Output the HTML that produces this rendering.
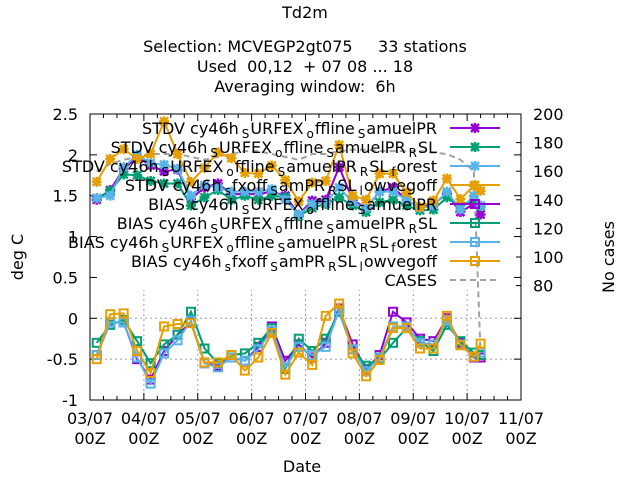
<!DOCTYPE html>
<html><head><meta charset="utf-8"><style>
body{margin:0;background:#fff}
svg{display:block;font-family:"DejaVu Sans","Liberation Sans",sans-serif}
</style></head><body>
<svg id="chart" width="640" height="480" viewBox="0 0 640 480" xmlns="http://www.w3.org/2000/svg">
<g id="titles" font-size="16" text-anchor="middle" fill="#000">
<text x="305" y="18">Td2m</text>
<text x="305" y="52" xml:space="preserve">Selection: MCVEGP2gt075     33 stations</text>
<text x="305" y="72" xml:space="preserve">Used  00,12  + 07 08 ... 18</text>
<text x="305" y="92" xml:space="preserve">Averaging window:  6h</text>
</g>
<g id="grid"></g>
<rect x="91" y="115" width="429" height="175" fill="#fff"/>
<g id="axes"></g>
<g id="series"></g>
<g id="legend"></g>
<text x="302" y="472" font-size="16" text-anchor="middle">Date</text>
<text x="0" y="0" font-size="16" text-anchor="middle" transform="translate(23,257) rotate(-90)">deg C</text>
<text x="0" y="0" font-size="16" text-anchor="middle" transform="translate(614,257) rotate(-90)">No cases</text>
</svg>
<script>
const hours = [3,9,15,21,27,33,39,45,51,57,63,69,75,81,87,93,99,105,111,117,123,129,135,141,147,153,159,165,171,174];
const stdvPurple = [1.45,1.57,1.83,1.97,1.87,1.80,1.82,1.46,1.60,1.65,1.52,1.52,1.52,1.55,1.50,1.27,1.44,1.45,1.85,1.45,1.35,1.55,1.60,1.45,1.35,1.40,1.52,1.30,1.40,1.27];
const stdvGreen = [1.47,1.56,1.76,1.75,1.68,1.65,1.65,1.38,1.48,1.57,1.45,1.50,1.45,1.50,1.48,1.25,1.35,1.40,1.48,1.38,1.30,1.42,1.45,1.38,1.32,1.33,1.48,1.38,1.45,1.37];
const stdvBlue = [1.47,1.50,1.85,2.00,1.90,1.88,1.83,1.50,1.63,1.60,1.55,1.55,1.55,1.58,1.45,1.27,1.40,1.42,1.60,1.42,1.35,1.55,1.55,1.45,1.35,1.38,1.55,1.33,1.50,1.38];
const stdvOrange = [1.67,1.95,2.07,1.95,2.01,2.41,2.01,1.67,1.84,2.03,1.96,1.78,1.77,1.87,1.69,1.43,1.66,1.68,2.12,1.50,1.45,1.77,1.77,1.54,1.36,1.44,1.71,1.46,1.62,1.56];
const biasPurple = [-0.45,-0.05,-0.05,-0.50,-0.75,-0.40,-0.20,-0.05,-0.55,-0.58,-0.48,-0.52,-0.35,-0.10,-0.52,-0.32,-0.48,-0.30,0.12,-0.32,-0.62,-0.45,0.08,-0.05,-0.25,-0.28,0.00,-0.30,-0.48,-0.48];
const biasGreen = [-0.30,-0.08,-0.02,-0.28,-0.55,-0.32,-0.20,0.08,-0.37,-0.55,-0.45,-0.43,-0.30,-0.12,-0.62,-0.25,-0.40,-0.25,0.08,-0.38,-0.58,-0.50,-0.30,-0.12,-0.28,-0.40,-0.08,-0.28,-0.42,-0.45];
const biasBlue = [-0.45,-0.05,-0.05,-0.48,-0.80,-0.43,-0.27,-0.03,-0.55,-0.60,-0.48,-0.52,-0.38,-0.15,-0.60,-0.35,-0.45,-0.35,0.10,-0.38,-0.65,-0.48,-0.10,-0.10,-0.30,-0.32,-0.03,-0.32,-0.47,-0.42];
const biasOrange = [-0.50,0.05,0.06,-0.40,-0.67,-0.10,-0.07,-0.06,-0.54,-0.54,-0.45,-0.64,-0.48,-0.18,-0.69,-0.42,-0.57,0.03,0.18,-0.43,-0.71,-0.51,-0.12,-0.12,-0.37,-0.37,0.03,-0.33,-0.47,-0.31];
const cases = [160,165,168,170,172,172,172,170,168,170,172,174,174,172,170,168,172,172,174,175,175,174,174,174,174,173,172,168,160,32];
const yTicks = [-1,-0.5,0,0.5,1,1.5,2,2.5];
const yTickLabels = ["-1","-0.5","0","0.5","1","1.5","2","2.5"];
const y2Ticks = [80,100,120,140,160,180,200];
const xDays = [0,1,2,3,4,5,6,7,8];
const xTickLabels = ["03/07","04/07","05/07","06/07","07/07","08/07","09/07","10/07","11/07"];
const legendLabels = [
 ["STDV cy46h","S","URFEX","o","ffline","S","amuelPR"],
 ["STDV cy46h","S","URFEX","o","ffline","S","amuelPR","R","SL"],
 ["STDV cy46h","S","URFEX","o","ffline","S","amuelPR","R","SL","f","orest"],
 ["STDV cy46h","s","fxoff","S","amPR","R","SL","l","owvegoff"],
 ["BIAS cy46h","S","URFEX","o","ffline","S","amuelPR"],
 ["BIAS cy46h","S","URFEX","o","ffline","S","amuelPR","R","SL"],
 ["BIAS cy46h","S","URFEX","o","ffline","S","amuelPR","R","SL","f","orest"],
 ["BIAS cy46h","s","fxoff","S","amPR","R","SL","l","owvegoff"],
 ["CASES"]];

const NS="http://www.w3.org/2000/svg";
const L=90,R=521,T=114,B=400;
const xs=h=>L+(R-L)*h/192;
const ys=v=>B-(B-T)*(v+1)/3.5;
const y2s=v=>B-(B-T)*v/200;
function mk(tag,attrs,parent){const e=document.createElementNS(NS,tag);for(const k in attrs)e.setAttribute(k,attrs[k]);parent.appendChild(e);return e;}
const grid=document.getElementById('grid'),axes=document.getElementById('axes'),ser=document.getElementById('series'),leg=document.getElementById('legend');
xDays.forEach(d=>{if(d>0&&d<8){const g=mk('line',{x1:xs(d*24),x2:xs(d*24),y1:T,y2:B,stroke:'#a0a0a0','stroke-dasharray':'2,3','stroke-width':1},grid);

}});
yTicks.forEach(v=>{if(v>-1&&v<2.5){const g=mk('line',{x1:L,x2:R,y1:ys(v),y2:ys(v),stroke:'#a0a0a0','stroke-dasharray':'2,3','stroke-width':1},grid);

}});
const fr=mk('rect',{x:L,y:T,width:R-L,height:B-T,fill:'none',stroke:'#000','stroke-width':1},axes);


yTicks.forEach((v,i)=>{const y=ys(v);
mk('line',{x1:L,x2:L+7,y1:y,y2:y,stroke:'#000'},axes);
mk('line',{x1:R-7,x2:R,y1:y,y2:y,stroke:'#000'},axes);
const t=mk('text',{x:L-12,y:y+6,'font-size':16,'text-anchor':'end'},axes);t.textContent=yTickLabels[i];

});
y2Ticks.forEach(v=>{const y=y2s(v);
mk('line',{x1:R-5,x2:R,y1:y,y2:y,stroke:'#000'},axes);
const t=mk('text',{x:R+12,y:y+6,'font-size':16},axes);t.textContent=String(v);

});
for(let h=0;h<=192;h+=6){const x=xs(h),len=(h%24===0)?7:4;
mk('line',{x1:x,x2:x,y1:B,y2:B-len,stroke:'#000'},axes);
mk('line',{x1:x,x2:x,y1:T,y2:T+len,stroke:'#000'},axes);}
xDays.forEach((d,i)=>{const x=xs(d*24);
const t=mk('text',{x:x,y:424,'font-size':16,'text-anchor':'middle'},axes);t.textContent=xTickLabels[i];


const t2=mk('text',{x:x,y:444,'font-size':16,'text-anchor':'middle'},axes);t2.textContent='00Z';

});
function star(g,x,y,c){mk('path',{d:`M${x-5},${y}H${x+5}M${x},${y-5}V${y+5}M${x-4},${y-4}L${x+4},${y+4}M${x-4},${y+4}L${x+4},${y-4}`,stroke:c,'stroke-width':2.5,fill:'none'},g);}
function sq(g,x,y,c){mk('rect',{x:x-4,y:y-4,width:8,height:8,stroke:c,'stroke-width':2,fill:'none'},g);}
const series=[
 {d:stdvPurple,c:'#9400d3',m:star,n:'stdv-samuelpr'},
 {d:stdvGreen,c:'#009e73',m:star,n:'stdv-samuelpr-rsl'},
 {d:stdvBlue,c:'#56b4e9',m:star,n:'stdv-samuelpr-rsl-forest'},
 {d:stdvOrange,c:'#e69f00',m:star,n:'stdv-fxoff-lowvegoff'},
 {d:biasPurple,c:'#9400d3',m:sq,n:'bias-samuelpr'},
 {d:biasGreen,c:'#009e73',m:sq,n:'bias-samuelpr-rsl'},
 {d:biasBlue,c:'#56b4e9',m:sq,n:'bias-samuelpr-rsl-forest'},
 {d:biasOrange,c:'#e69f00',m:sq,n:'bias-fxoff-lowvegoff'}];
const cp=mk('polyline',{points:hours.map((h,i)=>xs(h)+','+y2s(cases[i])).join(' '),fill:'none',stroke:'#a0a0a0','stroke-width':2,'stroke-dasharray':'6,4'},ser);


series.forEach(s=>{const g=mk('g',{},ser);


mk('polyline',{points:hours.map((h,i)=>xs(h)+','+ys(s.d[i])).join(' '),fill:'none',stroke:s.c,'stroke-width':2},g);
hours.forEach((h,i)=>s.m(g,xs(h),ys(s.d[i]),s.c));});
legendLabels.forEach((parts,i)=>{const y=128+i*19;
const e=mk('g',{},leg);


const t=mk('text',{x:437,y:y+6,'font-size':16,'text-anchor':'end'},e);
parts.forEach((p,j)=>{const ts=mk('tspan',{},t);ts.textContent=p;
if(j%2===1){ts.setAttribute('font-size','12');ts.setAttribute('dy','4');ts.setAttribute('dx','3');}
else if(j>0){ts.setAttribute('dy','-4');ts.setAttribute('dx','1');}});
if(i<8){const s=series[i];mk('line',{x1:450,x2:500,y1:y,y2:y,stroke:s.c,'stroke-width':2},e);s.m(e,475,y,s.c);}
else mk('line',{x1:450,x2:500,y1:y,y2:y,stroke:'#a0a0a0','stroke-width':2,'stroke-dasharray':'6,4'},e);});
</script>
</body></html>
